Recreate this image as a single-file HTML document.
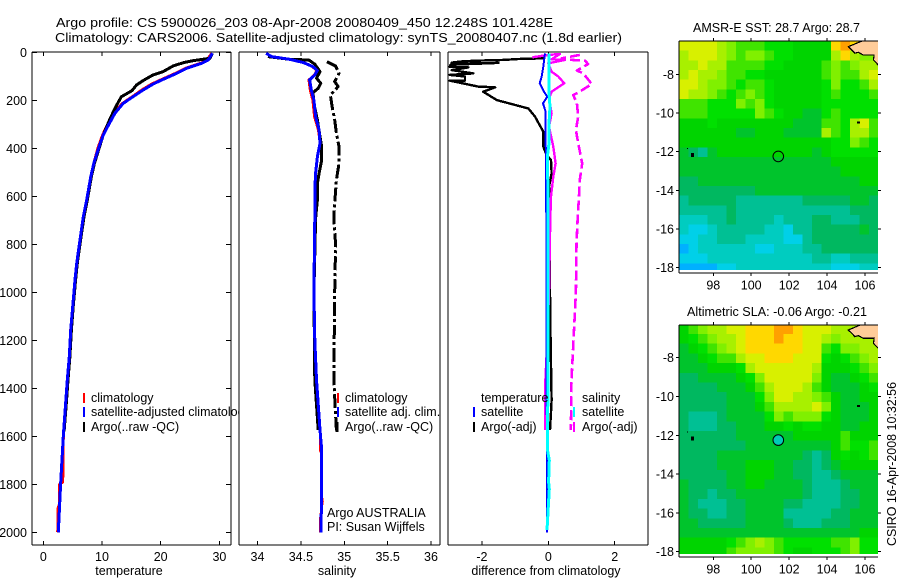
<!DOCTYPE html>
<html>
<head>
<meta charset="utf-8">
<title>Argo profile</title>
<style>
html,body{margin:0;padding:0;background:#fff;}
svg{display:block;}
text{font-family:"Liberation Sans",sans-serif;fill:#000;font-size:12.5px;}
</style>
</head>
<body>
<svg id="chart" width="900" height="580" viewBox="0 0 900 580" xmlns="http://www.w3.org/2000/svg">
<defs>
<clipPath id="clip-diff"><rect x="448" y="52" width="200" height="493"></rect></clipPath>
<clipPath id="clip-sst"><rect x="679" y="41" width="199" height="229"></rect></clipPath>
<clipPath id="clip-sla"><rect x="679" y="325" width="199" height="229"></rect></clipPath>
</defs>
<rect x="0" y="0" width="900" height="580" fill="#fff"></rect>
<text x="56" y="27" style="font-size:13.3px" textLength="497" lengthAdjust="spacingAndGlyphs">Argo profile: CS 5900026_203 08-Apr-2008 20080409_450 12.248S 101.428E</text>
<text x="55" y="42" style="font-size:13.3px" textLength="567" lengthAdjust="spacingAndGlyphs">Climatology: CARS2006. Satellite-adjusted climatology: synTS_20080407.nc (1.8d earlier)</text>
<g id="temp-panel"></g>
<g id="sal-panel"></g>
<g id="diff-panel"></g>
<g id="sst-map"></g>
<g id="sla-map"></g>
<text x="693" y="32" style="font-size:12.5px" textLength="167" lengthAdjust="spacingAndGlyphs">AMSR-E SST: 28.7 Argo: 28.7</text>
<text x="687" y="316" style="font-size:12.5px" textLength="180" lengthAdjust="spacingAndGlyphs">Altimetric SLA: -0.06 Argo: -0.21</text>
<text transform="translate(896,546) rotate(-90)" style="font-size:12.5px" textLength="164" lengthAdjust="spacingAndGlyphs">CSIRO 16-Apr-2008 10:32:56</text>
</svg>
<script>
// ---- shared depth axis ----
const depthTicks = [0, 200, 400, 600, 800, 1000, 1200, 1400, 1600, 1800, 2000];

// ---- temperature panel ----
const tempTicks = [0, 10, 20, 30];
const argoTempDepth = [4, 25, 35, 43, 57, 81, 94, 118, 136, 160, 185, 220, 275, 345, 400, 463, 518, 615, 685, 782, 879, 948, 1060, 1157, 1268, 1365, 1441, 1580];
const argoTempValue = [28.8, 28.4, 25.5, 23.9, 22.1, 20.4, 18.7, 17.0, 15.9, 15.1, 13.3, 12.5, 11.4, 10.2, 9.5, 8.7, 8.2, 7.5, 6.93, 6.36, 5.8, 5.5, 5.1, 4.78, 4.54, 4.2, 3.98, 3.55];
const satTempDepth = [4, 32, 46, 67, 88, 113, 132, 157, 185, 213, 254, 303, 345, 400, 463, 518, 615, 685, 782, 879, 948, 1060, 1157, 1268, 1365, 1441, 1600, 1800, 2000];
const satTempValue = [28.8, 28.1, 27.0, 24.4, 22.7, 20.4, 18.7, 17.0, 15.3, 13.6, 12.2, 11.1, 10.2, 9.4, 8.6, 8.1, 7.39, 6.82, 6.25, 5.69, 5.4, 5.0, 4.67, 4.43, 4.09, 3.87, 3.4, 2.95, 2.55];
const climTempDepth = [4, 32, 46, 67, 88, 113, 132, 157, 185, 213, 254, 303, 345, 400, 463, 518, 615, 685, 782, 879, 948, 1060, 1157, 1268, 1365, 1441, 1600, 1790, 1800, 1880, 1900, 1990, 2000];
const climTempValue = [28.7, 27.9, 26.8, 24.2, 22.5, 20.2, 18.5, 16.8, 15.2, 13.5, 12.0, 10.9, 10.1, 9.3, 8.6, 8.1, 7.39, 6.82, 6.25, 5.69, 5.45, 5.0, 4.67, 4.43, 4.09, 3.87, 3.4, 3.3, 2.8, 2.8, 2.5, 2.5, 2.4];

// ---- salinity panel ----
const salTicks = [34, 34.5, 35, 35.5, 36];
const salTickLabels = ['34', '34.5', '35', '35.5', '36'];
const rawSalDepth = [39, 57, 88, 122, 143, 178, 226, 282, 337, 393, 463, 532, 629, 692, 800, 1000, 1365, 1575];
const rawSalValue = [34.80, 34.90, 34.94, 34.89, 34.93, 34.84, 34.86, 34.89, 34.91, 34.94, 34.94, 34.91, 34.89, 34.88, 34.90, 34.89, 34.88, 34.91];
const qcSalDepth = [18, 29, 32, 49, 81, 108, 129, 150, 168, 213, 282, 351, 393, 449, 504, 546, 615, 692, 1000, 1365, 1573];
const qcSalValue = [34.12, 34.37, 34.59, 34.66, 34.72, 34.68, 34.73, 34.70, 34.64, 34.65, 34.69, 34.72, 34.74, 34.74, 34.71, 34.69, 34.69, 34.67, 34.65, 34.66, 34.70];
const satSalDepth = [4, 18, 29, 43, 60, 76, 94, 115, 157, 199, 268, 324, 379, 435, 504, 574, 692, 1000, 1200, 1365, 1573, 1657, 1850, 2000];
const satSalValue = [34.10, 34.16, 34.37, 34.53, 34.64, 34.69, 34.66, 34.60, 34.62, 34.65, 34.67, 34.71, 34.72, 34.69, 34.67, 34.66, 34.66, 34.65, 34.66, 34.68, 34.72, 34.74, 34.74, 34.73];
const climSalDepth = [4, 18, 29, 43, 60, 76, 94, 115, 157, 199, 268, 324, 379, 435, 504, 574, 692, 1000, 1200, 1365, 1573, 1660, 1670, 1850, 1870, 1950, 2000];
const climSalValue = [34.10, 34.16, 34.36, 34.52, 34.63, 34.68, 34.655, 34.59, 34.605, 34.635, 34.655, 34.70, 34.72, 34.69, 34.665, 34.66, 34.66, 34.65, 34.66, 34.68, 34.72, 34.72, 34.74, 34.74, 34.75, 34.72, 34.72];

// ---- difference panel ----
const diffTicks = [-2, 0, 2];
const diffTickLabels = ['-2', '0', '2'];
const argoTempDiffDepth = [25, 28, 32, 35, 38, 43, 48, 44, 52, 60, 63, 74, 88, 94, 101, 118, 118, 143, 146, 164, 199, 234, 268, 331, 365, 393, 428, 449, 504, 560, 615, 692, 1000, 1200, 1450, 1500, 1573];
const argoTempDiff = [-0.10, -0.9, -1.40, -2.2, -2.6, -2.91, -2.91, -1.5, -2.95, -2.97, -2.41, -2.91, -2.26, -2.97, -2.51, -2.51, -2.97, -2.11, -1.60, -1.96, -1.55, -0.60, -0.40, -0.15, -0.15, -0.15, -0.05, 0.08, 0.10, 0.02, 0.06, 0.04, 0.05, 0.07, 0.10, 0.08, 0.05];
const satTempDiffDepth = [4, 60, 101, 129, 164, 185, 213, 247, 310, 692, 1200, 2000];
const satTempDiff = [-0.10, -0.15, -0.20, -0.26, -0.13, -0.03, -0.16, -0.08, -0.08, -0.06, -0.05, -0.04];
const argoSalDiffDepth = [21, 11, 7, 29, 32, 46, 81, 101, 129, 164, 192, 254, 310, 393, 463, 518, 601, 692, 1000, 1200, 1400, 1573];
const argoSalDiff = [-0.48, 0, 0.35, 0.10, 0.50, 0, 0.10, 0.30, 0.48, 0.10, 0.02, 0.10, 0.02, 0.15, 0.22, 0.15, 0.08, 0.06, 0.02, -0.03, -0.10, -0.10];
const rawSalDiffDepth = [11, 25, 29, 35, 49, 76, 88, 132, 168, 178, 213, 268, 324, 379, 463, 532, 615, 678, 800, 1000, 1365, 1573];
const rawSalDiff = [0.95, 0.40, 0.40, 1.11, 1.20, 0.86, 1.05, 1.31, 0.90, 0.75, 0.86, 0.90, 0.83, 0.90, 1.02, 0.95, 0.92, 0.89, 0.85, 0.83, 0.70, 0.68];
const satSalDiffDepth = [4, 171, 226, 296, 379, 428, 692, 1200, 1660, 1700, 1790, 1820, 1990];
const satSalDiff = [0.02, 0.02, 0.05, 0.02, 0.02, -0.02, -0.01, -0.01, -0.02, 0.03, 0.01, 0.03, -0.04];

// ---- maps ----
const mapLonTicks = [98, 100, 102, 104, 106];
const mapLatTicks = [-8, -10, -12, -14, -16, -18];
const coastLon = [105.83, 105.12, 105.30, 105.47, 105.65, 105.91, 106.48, 106.45, 106.70];
const coastLat = [-6.28, -6.57, -6.74, -6.91, -6.86, -7.00, -7.00, -7.26, -7.52];
const islandLon = [96.89, 96.63, 105.65];
const islandLat = [-12.17, -11.83, -10.50];
const floatLon = [101.428];
const floatLat = [-12.248];
const cellPalette = ['#00b0ff', '#00d0e8', '#00ccc0', '#00c094', '#00b860', '#00c42c', '#00d400', '#00e000', '#40e400', '#80f000', '#a8f000', '#d8f000', '#ffd800', '#ffa000'];
const sstGrid = [
[11,11,11,11,10,9,8,8,8,7,7,7,6,6,6,6,12,13,12,11,9],
[10,11,11,11,10,9,8,9,9,8,7,7,6,6,6,6,10,12,10,9,9],
[10,10,11,10,10,8,8,8,8,7,7,6,6,6,6,8,9,8,9,10,10],
[10,11,10,10,9,8,8,7,7,6,6,6,6,6,6,8,9,8,8,10,11],
[11,11,10,9,9,8,7,8,8,7,6,6,6,6,6,7,9,7,7,8,10],
[11,10,10,9,8,7,8,9,8,7,6,6,6,6,6,7,8,7,7,7,8],
[8,8,8,7,7,7,9,8,9,7,6,6,6,6,6,7,7,7,7,7,7],
[8,8,8,7,7,7,7,7,9,8,7,6,6,5,5,7,8,7,7,7,7],
[6,6,6,7,6,6,6,6,6,6,6,6,5,5,5,8,8,7,10,11,8],
[6,6,6,6,6,6,5,5,6,6,6,5,5,5,5,10,8,7,10,10,8],
[6,6,6,6,6,6,6,6,6,6,6,6,6,6,6,6,7,7,9,8,7],
[5,4,3,5,6,6,6,6,6,6,6,6,6,6,5,6,7,7,7,7,7],
[5,5,5,5,5,5,5,5,5,5,5,5,5,5,5,5,6,6,6,6,6],
[5,5,5,5,5,5,5,5,5,5,5,5,5,5,5,5,5,6,6,6,6],
[4,4,5,5,5,5,5,5,5,5,5,5,5,5,5,5,5,5,5,6,6],
[4,4,4,4,4,4,4,4,5,5,5,5,5,5,5,5,5,5,5,5,5],
[3,4,4,4,4,4,3,3,3,3,3,3,3,4,4,4,4,4,5,5,4],
[3,3,3,3,3,4,3,3,3,3,3,3,3,3,3,3,3,3,4,4,4],
[2,2,2,3,3,4,3,3,3,3,2,3,3,3,4,4,3,3,3,4,4],
[2,1,1,2,3,3,3,3,3,2,2,1,3,3,4,4,4,4,4,5,4],
[1,1,2,2,3,3,3,2,2,2,2,1,1,3,4,4,4,4,4,4,4],
[0,1,2,2,2,2,2,2,1,1,2,2,2,3,3,4,4,4,4,4,4],
[1,1,1,2,2,2,2,2,2,2,2,2,2,2,3,3,2,2,3,3,3],
[0,0,0,0,1,1,2,2,2,2,2,2,2,2,2,2,1,1,1,2,2]
];
const slaGrid = [
[6,8,9,10,10,11,11,12,12,12,13,13,12,11,11,11,10,10,10,10,10],
[6,7,8,9,10,10,11,12,12,12,13,12,12,11,11,10,9,10,10,10,10],
[5,6,7,8,9,10,11,12,12,12,12,12,12,11,11,8,7,9,9,10,10],
[5,5,6,7,8,8,10,11,11,12,12,12,11,11,11,7,6,7,8,9,10],
[5,5,5,6,6,6,7,10,11,11,11,11,11,11,10,6,6,6,7,8,9],
[4,4,5,5,5,5,6,7,9,11,11,11,11,11,9,6,5,5,6,7,8],
[4,4,4,4,5,5,5,6,8,10,11,11,11,10,8,6,5,5,5,6,7],
[4,4,4,4,4,5,5,5,7,9,11,11,10,10,9,8,6,5,5,6,6],
[4,4,4,4,4,5,5,5,6,8,10,10,10,10,11,9,6,5,5,5,6],
[4,3,3,3,4,5,5,5,5,7,9,8,9,9,9,7,6,5,5,5,6],
[4,3,3,3,4,4,5,5,5,6,6,7,6,7,7,6,6,5,5,6,6],
[4,4,4,4,4,4,5,5,5,5,5,5,6,6,6,6,6,8,6,6,6],
[4,4,4,4,4,4,4,5,5,5,5,5,5,5,5,5,6,8,7,7,8],
[4,4,4,4,5,5,5,5,5,5,5,5,5,4,3,4,6,7,6,7,8],
[4,4,4,4,5,5,5,6,6,6,5,5,4,4,3,4,5,6,6,6,6],
[4,4,4,4,4,5,5,6,6,6,5,5,4,4,3,3,4,5,5,5,5],
[5,4,4,4,4,5,5,6,6,5,5,5,5,4,3,3,3,4,5,5,5],
[5,4,4,3,4,4,5,5,5,5,5,5,5,4,3,3,3,4,4,5,5],
[5,4,3,3,3,4,4,5,5,5,5,4,4,3,3,3,3,4,4,5,5],
[5,4,4,3,3,4,4,5,5,5,5,3,3,3,3,3,4,4,5,5,5],
[5,5,4,4,4,4,4,5,5,5,5,4,3,3,3,4,4,4,5,5,5],
[5,5,5,5,5,5,5,5,5,5,5,5,5,5,5,5,5,5,5,6,6],
[6,6,6,6,6,7,8,9,10,9,8,7,7,7,7,7,8,8,9,7,7],
[6,6,6,6,6,8,9,9,9,9,8,7,6,6,7,7,7,8,9,7,7]
];

// ---- axis functions ----
const NS = 'http://www.w3.org/2000/svg';
const yDepth = d => 52.3 + d * 0.24;
const xTemp = v => 43.3 + v * 5.87;
const xSal = v => 257.5 + (v - 34) * 86.75;
const xDiff = v => 548.3 + v * 33.2;
const xLon = v => 713.3 + (v - 98) * 18.96;
const ySst = v => 74.3 + (-8 - v) * 19.33;
const ySla = v => 357.7 + (-8 - v) * 19.4;

function mk(parent, tag, attrs) {
  const el = document.createElementNS(NS, tag);
  for (const k in attrs) el.setAttribute(k, attrs[k]);
  parent.appendChild(el);
  return el;
}
function seg(parent, x1, y1, x2, y2, name) {
  const el = mk(parent, 'line', {x1: x1, y1: y1, x2: x2, y2: y2, stroke: '#000', 'stroke-width': 1, 'shape-rendering': 'crispEdges'});
  
  
  return el;
}
function label(parent, x, y, str, anchor, name) {
  const el = mk(parent, 'text', {x: x, y: y, 'text-anchor': anchor});
  el.textContent = str;
  
  
  return el;
}
function series(parent, vals, depths, xf, color, width, dash, name, clip) {
  const pts = vals.map((v, i) => xf(v).toFixed(1) + ',' + yDepth(depths[i]).toFixed(1)).join(' ');
  const el = mk(parent, 'polyline', {points: pts, fill: 'none', stroke: color, 'stroke-width': width, 'shape-rendering': 'crispEdges', 'stroke-linejoin': 'round'});
  if (dash) el.setAttribute('stroke-dasharray', dash);
  if (clip) el.setAttribute('clip-path', 'url(#' + clip + ')');
  
  
  return el;
}
function legendMark(parent, x, y, color, width, name) {
  const el = mk(parent, 'rect', {x: x - width / 2, y: y - 5, width: width, height: 10, fill: color, 'shape-rendering': 'crispEdges'});
  
  
}
function profileBox(g, left, right, ticks, tickText, xf, title, titleX, yTicks, clearBg) {
  const top = 52, bottom = 545;
  if (clearBg) {
    const bg = mk(g, 'rect', {x: left, y: top, width: right - left, height: bottom - top, fill: '#fff'});
    
    
  }
  seg(g, left, top, right, top, 'axis-top');
  seg(g, left, bottom, right, bottom, 'axis-bottom');
  seg(g, left, top, left, bottom, 'axis-left');
  seg(g, right, top, right, bottom, 'axis-right');
  ticks.forEach((t, i) => {
    seg(g, xf(t), bottom, xf(t), bottom - 4, 'x-tick');
    seg(g, xf(t), top, xf(t), top + 4, 'x-tick');
    label(g, xf(t), 561, tickText[i], 'middle', 'x-tick-label');
  });
  if (yTicks) {
    depthTicks.forEach(d => {
      seg(g, left, yDepth(d), left + 5, yDepth(d), 'y-tick');
      seg(g, right, yDepth(d), right - 5, yDepth(d), 'y-tick');
      label(g, 27, yDepth(d) + 4.5, String(d), 'end', 'y-tick-label');
    });
  }
  label(g, titleX, 575, title, 'middle', 'x-axis-title');
}

// ---- temperature panel drawing ----
const gT = document.getElementById('temp-panel');
profileBox(gT, 32, 231, tempTicks, tempTicks.map(String), xTemp, 'temperature', 129, true, false);
series(gT, climTempValue, climTempDepth, xTemp, '#ff0000', 3, null, 'temperature-climatology-line');
series(gT, argoTempValue, argoTempDepth, xTemp, '#000000', 3, null, 'temperature-argo-line');
series(gT, satTempValue, satTempDepth, xTemp, '#0000ff', 3, null, 'temperature-satellite-line');
legendMark(gT, 84, 398, '#ff0000', 2, 'legend-mark-climatology');
legendMark(gT, 84, 412, '#0000ff', 2, 'legend-mark-satellite');
legendMark(gT, 84, 427, '#000000', 2, 'legend-mark-argo');
label(gT, 91, 402, 'climatology', 'start', 'legend-climatology');
label(gT, 91, 416, 'satellite-adjusted climatology', 'start', 'legend-satellite');
label(gT, 91, 431, 'Argo(..raw -QC)', 'start', 'legend-argo');

// ---- salinity panel drawing ----
const gS = document.getElementById('sal-panel');
profileBox(gS, 239, 440, salTicks, salTickLabels, xSal, 'salinity', 337, false, true);
series(gS, rawSalValue, rawSalDepth, xSal, '#000000', 3, '14 3 3 3', 'salinity-raw-line');
series(gS, qcSalValue, qcSalDepth, xSal, '#000000', 3, null, 'salinity-argo-line');
series(gS, climSalValue, climSalDepth, xSal, '#ff0000', 2.4, null, 'salinity-climatology-line');
series(gS, satSalValue, satSalDepth, xSal, '#0000ff', 3, null, 'salinity-satellite-line');
legendMark(gS, 338, 398, '#ff0000', 2, 'legend-mark-climatology');
legendMark(gS, 338, 412, '#0000ff', 2, 'legend-mark-satellite');
legendMark(gS, 337, 427, '#000000', 3, 'legend-mark-argo');
label(gS, 345, 402, 'climatology', 'start', 'legend-climatology');
label(gS, 345, 416, 'satellite adj. clim.', 'start', 'legend-satellite');
label(gS, 345, 431, 'Argo(..raw -QC)', 'start', 'legend-argo');
label(gS, 327, 517, 'Argo AUSTRALIA', 'start', 'float-owner-label');
label(gS, 327, 531, 'PI: Susan Wijffels', 'start', 'principal-investigator-label');

// ---- difference panel drawing ----
const gD = document.getElementById('diff-panel');
profileBox(gD, 448, 648, diffTicks, diffTickLabels, xDiff, 'difference from climatology', 546, false, true);
series(gD, argoTempDiff, argoTempDiffDepth, xDiff, '#000000', 2.4, null, 'temperature-difference-argo-line', 'clip-diff');
series(gD, argoSalDiff, argoSalDiffDepth, xDiff, '#ff00ff', 2.4, null, 'salinity-difference-argo-line', 'clip-diff');
series(gD, rawSalDiff, rawSalDiffDepth, xDiff, '#ff00ff', 2.6, '10 4', 'salinity-difference-raw-line', 'clip-diff');
series(gD, satTempDiff, satTempDiffDepth, xDiff, '#0000ff', 2, null, 'temperature-difference-satellite-line', 'clip-diff');
series(gD, satSalDiff, satSalDiffDepth, xDiff, '#00ffff', 3, null, 'salinity-difference-satellite-line', 'clip-diff');
legendMark(gD, 474, 412, '#0000ff', 2, 'legend-mark-temperature-satellite');
legendMark(gD, 474, 427, '#000000', 2, 'legend-mark-temperature-argo');
legendMark(gD, 574, 412, '#00ffff', 2, 'legend-mark-salinity-satellite');
legendMark(gD, 574, 427, '#ff00ff', 2, 'legend-mark-salinity-argo');
label(gD, 481, 402, 'temperature', 'start', 'legend-temperature');
label(gD, 481, 416, 'satellite', 'start', 'legend-temperature-satellite');
label(gD, 481, 431, 'Argo(-adj)', 'start', 'legend-temperature-argo');
label(gD, 582, 402, 'salinity', 'start', 'legend-salinity');
label(gD, 582, 416, 'satellite', 'start', 'legend-salinity-satellite');
label(gD, 582, 431, 'Argo(-adj)', 'start', 'legend-salinity-argo');

// ---- map drawing ----
function drawMap(g, grid, yf, clipId, cellName, axisBottom, axisTop, circleFill) {
  const lonStart = 96.2, latStart = -6.28, step = 0.5;
  const cells = mk(g, 'g', {'clip-path': 'url(#' + clipId + ')'});
  
  
  grid.forEach((row, j) => row.forEach((v, i) => {
    const x0 = xLon(lonStart + i * step), x1 = xLon(lonStart + (i + 1) * step);
    const y0 = yf(latStart - j * step), y1 = yf(latStart - (j + 1) * step);
    const r = mk(cells, 'rect', {x: x0.toFixed(1), y: y0.toFixed(1), width: (x1 - x0 + 0.5).toFixed(1), height: (y1 - y0 + 0.5).toFixed(1), fill: cellPalette[v], 'shape-rendering': 'crispEdges'});
    
    
  }));
  const coastPts = coastLon.map((lon, i) => xLon(lon).toFixed(1) + ',' + yf(coastLat[i]).toFixed(1));
  const land = mk(cells, 'polygon', {points: coastPts.join(' ') + ' ' + xLon(106.7).toFixed(1) + ',' + yf(-6.28).toFixed(1), fill: '#ffcc99', 'shape-rendering': 'crispEdges'});
  
  
  const coast = mk(cells, 'polyline', {points: coastPts.join(' '), fill: 'none', stroke: '#000', 'stroke-width': 1.2, 'shape-rendering': 'crispEdges'});
  
  
  islandLon.forEach((lon, i) => {
    const sizes = i === 0 ? [3, 4] : (i === 1 ? [1, 1] : [3, 2]);
    const isl = mk(g, 'rect', {x: xLon(lon) - sizes[0] / 2, y: yf(islandLat[i]) - sizes[1] / 2, width: sizes[0], height: sizes[1], fill: '#000', 'shape-rendering': 'crispEdges'});
    
    
  });
  const c = mk(g, 'circle', {cx: xLon(floatLon[0]), cy: yf(floatLat[0]), r: 5.3, fill: circleFill, stroke: '#000', 'stroke-width': 1});
  
  
  seg(g, 679, axisTop, 878, axisTop, 'axis-top');
  seg(g, 679, axisBottom, 878, axisBottom, 'axis-bottom');
  seg(g, 679, axisTop, 679, axisBottom, 'axis-left');
  mapLonTicks.forEach(t => {
    seg(g, xLon(t), axisTop, xLon(t), axisTop - 3, 'x-tick');
    seg(g, xLon(t), axisBottom, xLon(t), axisBottom + 3, 'x-tick');
    label(g, xLon(t), axisBottom + 16.5, String(t), 'middle', 'x-tick-label');
  });
  mapLatTicks.forEach(t => {
    seg(g, 679, yf(t), 676, yf(t), 'y-tick');
    seg(g, 878, yf(t), 881, yf(t), 'y-tick');
    label(g, 674, yf(t) + 4.5, String(t), 'end', 'y-tick-label');
  });
}
drawMap(document.getElementById('sst-map'), sstGrid, ySst, 'clip-sst', 'sst-cell', 273, 41, 'none');
drawMap(document.getElementById('sla-map'), slaGrid, ySla, 'clip-sla', 'sla-cell', 557, 325, '#00ccb8');
</script>
</body>
</html>
